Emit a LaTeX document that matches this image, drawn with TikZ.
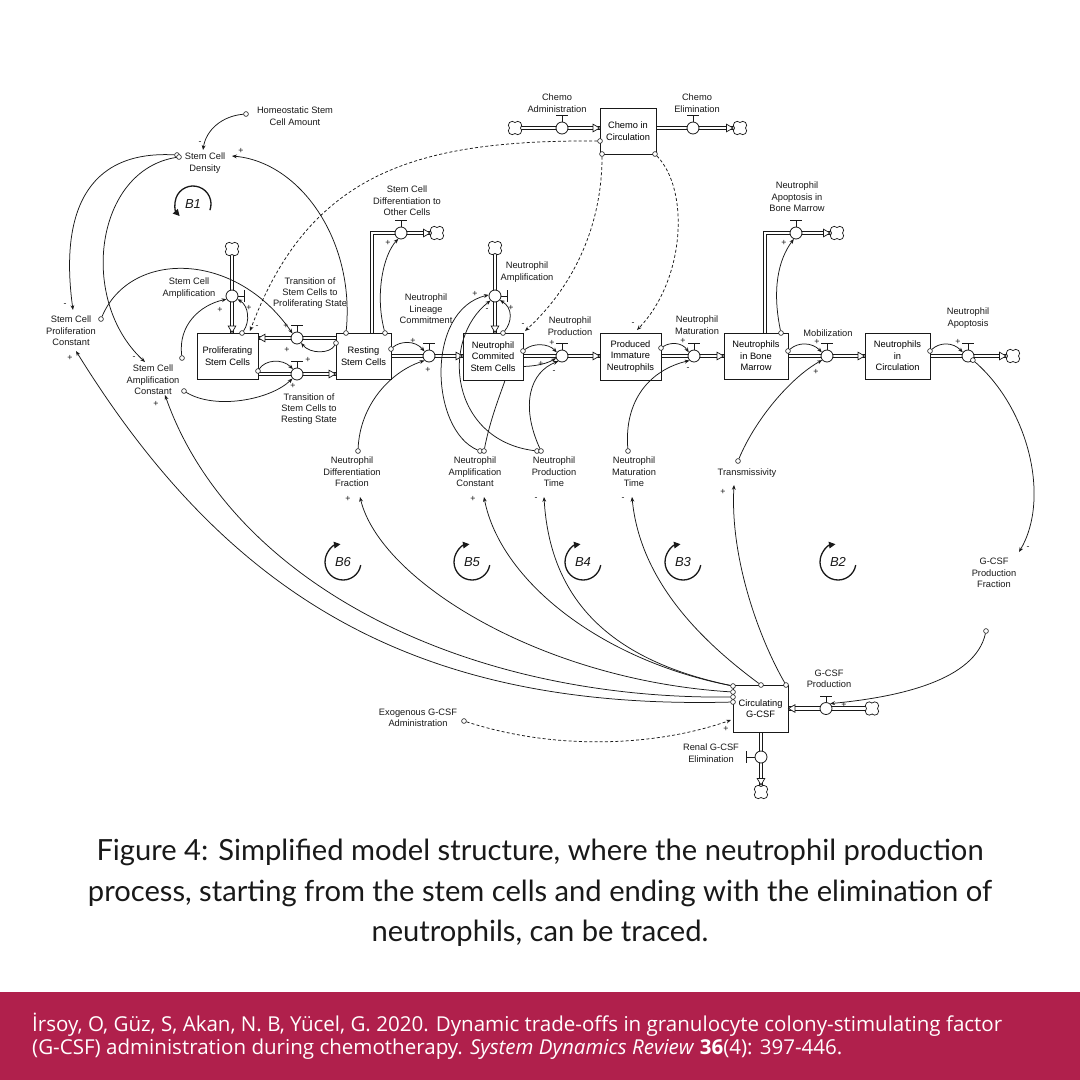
\documentclass[tikz,border=0pt]{standalone}
\usepackage{fontspec}
\usepackage{graphicx}
\setmainfont{Liberation Sans}
\newfontfamily\capfont{Lato}
\newfontfamily\footfont{Open Sans}
\usetikzlibrary{arrows.meta,calc}
\pgfdeclarelayer{bg}
\pgfsetlayers{bg,main}
\definecolor{ink}{RGB}{25,25,25}
\definecolor{crimson}{RGB}{176,32,76}
\newcommand{\dfont}{\fontsize{9.3}{11.4}\selectfont}
\tikzset{
  lbl/.style={font=\dfont, align=center, inner sep=0.5pt, text=ink},
  stock/.style={draw=ink, line width=0.9pt, fill=white, align=center, font=\dfont, inner sep=1pt},
  lnk/.style={draw=ink, line width=0.75pt, -{Stealth[length=4.8pt,width=3.8pt]}},
  dlnk/.style={lnk, dash pattern=on 3pt off 2.2pt},
  pipe/.style={draw=ink, double=white, double distance=2.6pt, line width=0.75pt},
  valve/.style={circle, draw=ink, fill=white, line width=0.8pt, minimum size=12pt, inner sep=0pt},
  tl/.style={circle, draw=ink, fill=white, line width=0.6pt, minimum size=4.8pt, inner sep=0pt},
  sg/.style={font=\fontsize{8.8}{9}\selectfont, inner sep=0pt, text=ink},
  hdl/.style={draw=ink, line width=0.8pt},
  loopar/.style={draw=ink, line width=1.3pt, -{Triangle[length=6.5pt,width=6.5pt]}},
  looptx/.style={font=\fontsize{13}{13}\selectfont\itshape, text=ink, inner sep=0pt},
  pics/cloud/.style={code={
    \foreach \a in {45,135,225,315}{\draw[ink, fill=white, line width=0.7pt] (\a:3.9) circle (3.9);}
    \fill[white] (0,0) circle (5.2);
  }},
  pics/fhead/.style={code={\draw[ink, fill=white, line width=0.7pt, line join=miter] (0,0) -- (-6.5,3.8) -- (-6.5,-3.8) -- cycle;}},
}
\begin{document}
\begin{tikzpicture}[x=1pt,y=-1pt]
\begin{pgfonlayer}{bg}
\fill[white] (0,0) rectangle (1080,1080);
\end{pgfonlayer}
\useasboundingbox (0,0) rectangle (1080,1080);

% ---------- stocks
\node[stock, minimum width=61pt, minimum height=46pt] (psc) at (227.5,356) {Proliferating\\Stem Cells};
\node[stock, minimum width=55pt, minimum height=46pt] (rsc) at (363.5,356) {Resting\\Stem Cells};
\node[stock, minimum width=60pt, minimum height=47pt] (ncsc) at (493,356.5) {Neutrophil\\Commited\\Stem Cells};
\node[stock, minimum width=61pt, minimum height=47pt] (pin) at (630.5,356.5) {Produced\\Immature\\Neutrophils};
\node[stock, minimum width=64pt, minimum height=46pt] (nbm) at (756,356) {Neutrophils\\in Bone\\Marrow};
\node[stock, minimum width=65pt, minimum height=46pt] (nic) at (897.5,356) {Neutrophils\\in\\Circulation};
\node[stock, minimum width=56pt, minimum height=46pt] (chemo) at (628,131) {Chemo in\\Circulation};
\node[stock, minimum width=55pt, minimum height=47pt] (gcsf) at (760.5,708.5) {Circulating\\G-CSF};

% ---------- valves
\node[valve] (vsa) at (232,296) {};
\node[valve] (vtp) at (297,338) {};
\node[valve] (vtr) at (297,374) {};
\node[valve] (vsd) at (401,233) {};
\node[valve] (vlc) at (429,356) {};
\node[valve] (vna) at (495,296) {};
\node[valve] (vnp) at (562,356) {};
\node[valve] (vnm) at (694,356) {};
\node[valve] (vab) at (796,233) {};
\node[valve] (vmo) at (827,356) {};
\node[valve] (vap) at (968,356) {};
\node[valve] (vca) at (562,128) {};
\node[valve] (vce) at (693,128) {};
\node[valve] (vgp) at (826,708.5) {};
\node[valve] (vre) at (761,757) {};

% ---------- cloud positions and pipe corners
\coordinate (c1) at (232,249);
\coordinate (c2) at (437,233);
\coordinate (c3) at (495,248);
\coordinate (c4) at (837,233);
\coordinate (c5) at (1013,356);
\coordinate (c6) at (515,128);
\coordinate (c7) at (740,128);
\coordinate (c8) at (872,708.5);
\coordinate (c9) at (761,792);
\coordinate (sdcorner) at (372,233);
\coordinate (bmcorner) at (765,233);

% ---------- pipes
\begin{pgfonlayer}{bg}
\draw[pipe] (c1) -- (psc.north -| vsa);
\draw[pipe] (rsc.west |- vtp) -- (psc.east |- vtp);
\draw[pipe] (psc.east |- vtr) -- (rsc.west |- vtr);
\draw[pipe] (rsc.north -| sdcorner) -- (sdcorner) -- (c2);
\draw[pipe] (rsc.east |- vlc) -- (ncsc.west |- vlc);
\draw[pipe] (c3) -- (ncsc.north -| vna);
\draw[pipe] (ncsc.east |- vnp) -- (pin.west |- vnp);
\draw[pipe] (pin.east |- vnm) -- (nbm.west |- vnm);
\draw[pipe] (nbm.north -| bmcorner) -- (bmcorner) -- (c4);
\draw[pipe] (nbm.east |- vmo) -- (nic.west |- vmo);
\draw[pipe] (nic.east |- vap) -- (c5);
\draw[pipe] (c6) -- (chemo.west |- vca);
\draw[pipe] (chemo.east |- vce) -- (c7);
\draw[pipe] (c8) -- (gcsf.east |- vgp);
\draw[pipe] (gcsf.south -| vre) -- (c9);
\end{pgfonlayer}

% ---------- flow heads
\pic[rotate=-90] at (psc.north -| vsa) {fhead};
\pic[rotate=180] at (psc.east |- vtp) {fhead};
\pic at (rsc.west |- vtr) {fhead};
\pic at ($(c2)+(-7,0)$) {fhead};
\pic at (ncsc.west |- vlc) {fhead};
\pic[rotate=-90] at (ncsc.north -| vna) {fhead};
\pic at (pin.west |- vnp) {fhead};
\pic at (nbm.west |- vnm) {fhead};
\pic at ($(c4)+(-7,0)$) {fhead};
\pic at (nic.west |- vmo) {fhead};
\pic at ($(c5)+(-7,0)$) {fhead};
\pic at (chemo.west |- vca) {fhead};
\pic at ($(c7)+(-7,0)$) {fhead};
\pic[rotate=180] at (gcsf.east |- vgp) {fhead};
\pic[rotate=-90] at ($(c9)+(0,-7)$) {fhead};

% ---------- clouds
\foreach \c in {c1,c2,c3,c4,c5,c6,c7,c8,c9} \pic at (\c) {cloud};

% ---------- valve handles
\foreach \v in {vtp,vtr,vsd,vlc,vnp,vnm,vab,vmo,vap,vca,vce,vgp}
  \draw[hdl] (\v.north) -- ++(0,-6) ++(-6,0) -- ++(12,0);
\foreach \v in {vsa,vna}
  \draw[hdl] (\v.east) -- ++(6,0) ++(0,-6) -- ++(0,12);
\draw[hdl] (vre.west) -- ++(-8,0) ++(0,-6) -- ++(0,12);

% ---------- labels
\node[lbl] (hsca) at (295,116) {Homeostatic Stem\\Cell Amount};
\node[lbl] (scd) at (205,163) {Stem Cell\\Density};
\node[lbl] (scpc) at (71,331) {Stem Cell\\Proliferation\\Constant};
\node[lbl] (scac) at (153,380) {Stem Cell\\Amplification\\Constant};
\node[lbl] (lsa) at (189,288) {Stem Cell\\Amplification};
\node[lbl] (ltp) at (310,293) {Transition of\\Stem Cells to\\Proliferating State};
\node[lbl] (ltr) at (309,409) {Transition of\\Stem Cells to\\Resting State};
\node[lbl] (lsd) at (407,201) {Stem Cell\\Differentiation to\\Other Cells};
\node[lbl] (llc) at (426,309) {Neutrophil\\Lineage\\Commitment};
\node[lbl] (lna) at (527,272) {Neutrophil\\Amplification};
\node[lbl] (lnp) at (570,326) {Neutrophil\\Production};
\node[lbl] (lnm) at (697,325) {Neutrophil\\Maturation};
\node[lbl] (lab) at (797,197) {Neutrophil\\Apoptosis in\\Bone Marrow};
\node[lbl] (lmo) at (828,333) {Mobilization};
\node[lbl] (lap) at (968,318) {Neutrophil\\Apoptosis};
\node[lbl] (lca) at (557,103) {Chemo\\Administration};
\node[lbl] (lce) at (697,103) {Chemo\\Elimination};
\node[lbl] (ndf) at (352,472) {Neutrophil\\Differentiation\\Fraction};
\node[lbl] (nac) at (475,472) {Neutrophil\\Amplification\\Constant};
\node[lbl] (npt) at (554,472) {Neutrophil\\Production\\Time};
\node[lbl] (nmt) at (634,472) {Neutrophil\\Maturation\\Time};
\node[lbl] (trans) at (747,473) {Transmissivity};
\node[lbl] (gcpf) at (994,573) {G-CSF\\Production\\Fraction};
\node[lbl] (lgp) at (829,679) {G-CSF\\Production};
\node[lbl] (exo) at (418,718) {Exogenous G-CSF\\Administration};
\node[lbl] (lre) at (711,753) {Renal G-CSF\\Elimination};

% ---------- link tails
\node[tl] (t_hs) at (246,114) {};
\node[tl] (t_sd1) at (177,155) {};
\node[tl] (t_sd2) at (179,157) {};
\node[tl] (t_rs1) at (346,333) {};
\node[tl] (t_pc) at (101,319) {};
\node[tl] (t_ac1) at (182,358) {};
\node[tl] (t_ac2) at (184,391) {};
\node[tl] (t_ps1) at (242,333) {};
\node[tl] (t_rs2) at (336,343) {};
\node[tl] (t_ps2) at (258,371) {};
\node[tl] (t_rs3) at (385,333) {};
\node[tl] (t_rs4) at (391,349) {};
\node[tl] (t_df) at (358,451) {};
\node[tl] (t_nc1) at (503,333) {};
\node[tl] (t_ac3) at (480,451) {};
\node[tl] (t_ac4) at (484,451) {};
\node[tl] (t_pt1) at (537,451) {};
\node[tl] (t_pt2) at (541,451) {};
\node[tl] (t_nc2) at (523,351) {};
\node[tl] (t_pi) at (661,348) {};
\node[tl] (t_mt) at (628,451) {};
\node[tl] (t_nb1) at (781,333) {};
\node[tl] (t_nb2) at (788,351) {};
\node[tl] (t_tr) at (738,461) {};
\node[tl] (t_ni) at (930,351) {};
\node[tl] (t_ap) at (vap.-40) {};
\node[tl] (t_pf) at (986,631) {};
\node[tl] (t_ex) at (464,721) {};
\node[tl] (t_ch1) at (600,141) {};
\node[tl] (t_ch2) at (602,154) {};
\node[tl] (t_ch3) at (655,154) {};
\node[tl] (t_g1) at (733,702) {};
\node[tl] (t_g2) at (733,697) {};
\node[tl] (t_g3) at (733,692) {};
\node[tl] (t_g4) at (733,686) {};
\node[tl] (t_g5) at (761,685) {};
\node[tl] (t_g6) at (786,685) {};

% ---------- link heads
\coordinate (p_scd1) at (203,150);
\coordinate (p_scd2) at (232,156);
\coordinate (p_pc1) at (73,310);
\coordinate (p_ac1) at (145,362);
\coordinate (p_pc2) at (76,351);
\coordinate (p_ac2) at (165,395);
\coordinate (p_df) at (360,497);
\coordinate (p_nac) at (484,497);
\coordinate (p_npt) at (544,497);
\coordinate (p_nmt) at (632,497);
\coordinate (p_tr) at (734,485);
\coordinate (p_pf) at (1019,552);
\coordinate (p_gx) at (731,720);
\coordinate (p_ps) at (250,331);
\coordinate (p_nc) at (525,331);
\coordinate (p_pi) at (637,330);

% ---------- links
\draw[lnk] (t_hs) .. controls (222,116) and (206,130) .. (p_scd1);
\draw[lnk] (t_rs1) .. controls (355,240) and (300,162) .. (p_scd2);
\draw[lnk] (t_sd1) .. controls (85,150) and (60,215) .. (p_pc1);
\draw[lnk] (t_sd2) .. controls (95,170) and (78,300) .. (p_ac1);
\draw[lnk] (t_pc) .. controls (130,250) and (235,250) .. (vtp.135);
\draw[lnk] (t_ac2) .. controls (215,410) and (270,400) .. (vtr.225);
\draw[lnk] (t_ac1) .. controls (178,325) and (200,305) .. (vsa.210);
\draw[lnk] (t_ps1) .. controls (250,322) and (249,306) .. (vsa.-30);
\draw[lnk] (t_rs2) .. controls (330,354) and (310,354) .. (vtp.-50);
\draw[lnk] (t_ps2) .. controls (265,360) and (282,358) .. (vtr.130);
\draw[lnk] (t_rs3) .. controls (375,295) and (383,255) .. (vsd.-115);
\draw[lnk] (t_rs4) .. controls (400,341) and (415,340) .. (vlc.135);
\draw[lnk] (t_df) .. controls (360,405) and (390,372) .. (vlc.-135);
\draw[lnk] (t_nc1) .. controls (512,322) and (513,308) .. (vna.-40);
\draw[lnk] (t_ac3) .. controls (430,430) and (425,310) .. (vna.170);
\draw[lnk] (t_pt1) .. controls (450,440) and (440,340) .. (vna.-135);
\draw[ink, line width=0.75pt] (t_ac4) .. controls (490,420) and (500,395) .. ($(ncsc.south)+(12,0)$);
\draw[lnk] (t_pt2) .. controls (520,405) and (530,372) .. (vnp.-125);
\draw[lnk] (t_nc2) .. controls (533,343) and (548,343) .. (vnp.145);
\draw[lnk] ($(ncsc.east)+(0,10)$) .. controls (538,366) and (548,363) .. (vnp.200);
\draw[lnk] (t_pi) .. controls (670,342) and (682,342) .. (vnm.145);
\draw[lnk] (t_mt) .. controls (624,400) and (650,370) .. (vnm.-135);
\draw[lnk] (t_nb1) .. controls (772,290) and (778,260) .. (vab.-110);
\draw[lnk] (t_nb2) .. controls (798,342) and (812,342) .. (vmo.145);
\draw[lnk] (t_tr) .. controls (755,420) and (790,378) .. (vmo.-140);
\draw[lnk] (t_ni) .. controls (940,342) and (953,342) .. (vap.145);
\draw[lnk] (t_ap) .. controls (1030,410) and (1050,500) .. (p_pf);
\draw[lnk] (t_pf) .. controls (975,680) and (900,697) .. (vgp.50);
\draw[dlnk] (t_ex) .. controls (560,752) and (660,745) .. (p_gx);
\draw[dlnk] (t_ch1) .. controls (420,140) and (310,170) .. (p_ps);
\draw[dlnk] (t_ch2) .. controls (602,230) and (570,290) .. (p_nc);
\draw[dlnk] (t_ch3) .. controls (690,190) and (685,280) .. (p_pi);
\draw[lnk] (t_g1) .. controls (420,710) and (230,600) .. (p_pc2);
\draw[lnk] (t_g2) .. controls (460,700) and (230,580) .. (p_ac2);
\draw[lnk] (t_g3) .. controls (540,680) and (380,580) .. (p_df);
\draw[lnk] (t_g4) .. controls (600,660) and (500,580) .. (p_nac);
\draw[lnk] (t_g4) .. controls (610,660) and (550,600) .. (p_npt);
\draw[lnk] (t_g5) .. controls (700,640) and (640,580) .. (p_nmt);
\draw[lnk] (t_g6) .. controls (760,640) and (730,560) .. (p_tr);

% ---------- polarity signs
\foreach \x/\y/\s in {200/143/-, 241/151/+, 65/305/-, 134/358/-, 70/358/+, 156/404/+,
  220/310/+, 249/308/+, 257/327/-, 286/326/+, 287/350/+, 308/360/+, 293/386/+,
  388/243/+, 413/341/+, 428/370/+, 475/294/+, 487/310/-, 511/308/+, 523/325/-,
  552/343/+, 541/364/+, 554/372/-, 633/324/-, 683/341/+, 688/369/-, 784/243/+,
  817/342/+, 816/372/+, 958/342/+, 1028/548/-, 844/705/+, 726/729/+,
  348/499/+, 473/499/+, 536/499/-, 623/499/-, 723/492/+}
  \node[sg] at (\x,\y) {\s};

% ---------- loop markers
\node[looptx] (B1) at (193,204) {B1};
\draw[loopar] ($(B1)+(20:18)$) arc[start angle=20, end angle=-222, radius=18];
\foreach \n/\x in {B2/838,B3/683,B4/583,B5/472,B6/343}{
  \node[looptx] (\n) at (\x,562) {\n};
  \draw[loopar] ($(\n)+(10:18)$) arc[start angle=10, end angle=262, radius=18];
}

% ---------- caption and footer
\node[text=black!90, inner sep=0pt] (cap) at (540,893)
  {\resizebox{904pt}{!}{\capfont\fontsize{28}{38.5}\selectfont\begin{tabular}{@{}c@{}}
   Figure 4: Simplified model structure, where the neutrophil production\\
   process, starting from the stem cells and ending with the elimination of\\
   neutrophils, can be traced.\end{tabular}}};
\fill[crimson] (0,992) rectangle (1080,1080);
\node[anchor=west, text=white, inner sep=0pt] (foot) at (32,1037)
  {\resizebox{970pt}{!}{\footfont\fontsize{18}{19.5}\selectfont\begin{tabular}{@{}l@{}}
   İrsoy, O, Güz, S, Akan, N. B, Yücel, G. 2020. Dynamic trade-offs in granulocyte colony-stimulating factor\\
   (G-CSF) administration during chemotherapy. \textit{System Dynamics Review} \textbf{36}(4): 397-446.\end{tabular}}};
\end{tikzpicture}
\end{document}
